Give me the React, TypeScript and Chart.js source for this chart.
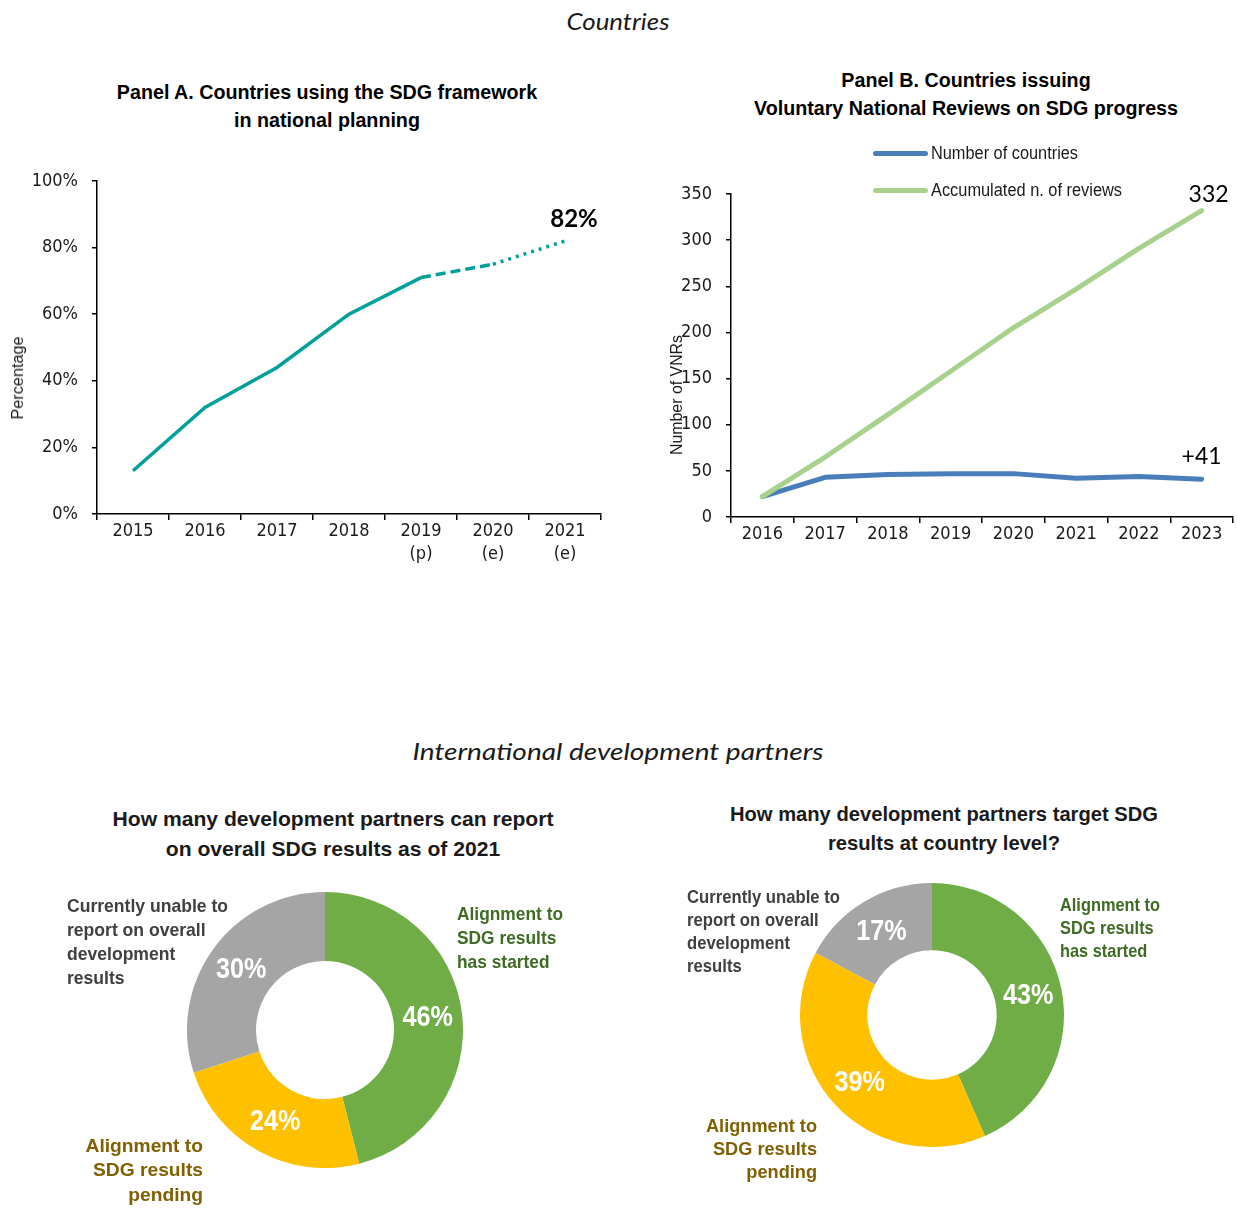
import React, { useEffect, useRef } from "react";
import { Chart, registerables } from "chart.js";

Chart.register(...registerables);

const NARROW = "'Liberation Sans Narrow', 'Arial Narrow', 'DejaVu Sans Condensed', sans-serif";
const ARIAL = "'Liberation Sans', Arial, sans-serif";
const HUMAN = "Lato, 'Open Sans', sans-serif";

// ---------- Data ----------
// Panel A
const panelAYears = [["2015"], ["2016"], ["2017"], ["2018"], ["2019", "(p)"], ["2020", "(e)"], ["2021", "(e)"]];
const panelAShare = [13, 32, 44, 60, 71, 75, 82];
const panelASegmentStyle = ["solid", "solid", "solid", "solid", "dashed", "dotted"];

// Panel B
const panelBYears = ["2016", "2017", "2018", "2019", "2020", "2021", "2022", "2023"];
const vnrCountries = [22, 43, 46, 47, 47, 42, 44, 41];
const vnrAccumulated = [22, 65, 111, 158, 205, 247, 291, 332];

// Doughnuts
const donutCategories = [
  "Alignment to SDG results has started",
  "Alignment to SDG results pending",
  "Currently unable to report on overall development results",
];
const donutReportShares = [46, 24, 30];
const donutTargetShares = [43, 39, 17];
const donutColors = ["#70AD47", "#FFC000", "#A5A5A5"];

// ---------- Text measuring ----------
let measureCtx: CanvasRenderingContext2D | null = null;
function textWidth(text: string, font: string) {
  if (!measureCtx) measureCtx = document.createElement("canvas").getContext("2d");
  measureCtx!.font = font;
  return measureCtx!.measureText(text).width;
}

// ---------- Plugins ----------
type PointLabel = { dataset: number; index: number; text: string; dx: number; dy: number; font: string; color: string };
function makePointLabels(items: PointLabel[]) {
  return {
    id: "pointLabels",
    afterDatasetsDraw(chart: any) {
      const ctx = chart.ctx;
      items.forEach((it) => {
        const el = chart.getDatasetMeta(it.dataset).data[it.index];
        if (!el) return;
        ctx.save();
        ctx.font = it.font;
        ctx.fillStyle = it.color;
        ctx.textAlign = "center";
        ctx.textBaseline = "middle";
        ctx.fillText(it.text, el.x + it.dx, el.y + it.dy);
        ctx.restore();
      });
    },
  };
}

const sliceLabels = {
  id: "sliceLabels",
  afterDatasetsDraw(chart: any) {
    const ctx = chart.ctx;
    const meta = chart.getDatasetMeta(0);
    const values = chart.data.datasets[0].data;
    meta.data.forEach((arc: any, i: number) => {
      const p = arc.getCenterPoint();
      ctx.save();
      ctx.translate(p.x, p.y);
      ctx.scale(0.84, 1);
      ctx.font = `bold 30px ${ARIAL}`;
      ctx.fillStyle = "#ffffff";
      ctx.textAlign = "center";
      ctx.textBaseline = "middle";
      ctx.fillText(`${values[i]}%`, 0, 1);
      ctx.restore();
    });
  },
};

// ---------- Generic chart canvas ----------
function ChartBox({ left, top, width, height, make }: any) {
  const ref = useRef<HTMLCanvasElement | null>(null);
  useEffect(() => {
    if (!ref.current) return;
    const chart = new Chart(ref.current, make());
    return () => chart.destroy();
  }, []);
  return (
    <canvas
      ref={ref}
      width={width}
      height={height}
      style={{ position: "absolute", left, top, width, height }}
    />
  );
}

function Txt({ x, y, lh, align = "left", size, weight = "normal", color = "#1a1a1a", family = ARIAL, italic = false, lines, fitW, fitLine = 0 }: any) {
  const W = 800;
  let k = 1;
  if (fitW) {
    const font = `${italic ? "italic " : ""}${weight} ${size}px ${family}`;
    const w = textWidth(lines[fitLine], font);
    if (w > 0) k = fitW / w;
  }
  const style: any = {
    position: "absolute",
    top: y - lh / 2,
    fontFamily: family,
    fontSize: size,
    fontWeight: weight,
    fontStyle: italic ? "italic" : "normal",
    lineHeight: `${lh}px`,
    color,
    whiteSpace: "nowrap",
    textAlign: align,
    transform: `scaleX(${k})`,
    transformOrigin: align === "left" ? "left center" : align === "right" ? "right center" : "center center",
  };
  if (align === "left") style.left = x;
  else if (align === "center") {
    style.left = x - W / 2;
    style.width = W;
  } else {
    style.left = x - W;
    style.width = W;
  }
  return (
    <div style={style}>
      {lines.map((l: string, i: number) => (
        <div key={i}>{l}</div>
      ))}
    </div>
  );
}

function VTxt({ x, y, size, text, fitW }: any) {
  const w = textWidth(text, `normal ${size}px ${ARIAL}`);
  const k = fitW && w > 0 ? fitW / w : 1;
  return (
    <div
      style={{
        position: "absolute",
        left: x,
        top: y,
        transform: `translate(-50%, -50%) rotate(-90deg) scaleX(${k})`,
        fontFamily: ARIAL,
        fontSize: size,
        color: "#1a1a1a",
        whiteSpace: "nowrap",
        lineHeight: "1",
      }}
    >
      {text}
    </div>
  );
}

const tickFont = { family: NARROW, size: 18, lineHeight: 1.28 };

function makePanelA() {
  const dashFor = (s: string) => (s === "dashed" ? [10, 5] : s === "dotted" ? [3, 5] : []);
  return {
    type: "line",
    data: {
      labels: panelAYears,
      datasets: [
        {
          label: "Countries using the SDG framework",
          data: panelAShare,
          borderColor: "#00A09A",
          borderWidth: 3.5,
          pointRadius: 0,
          tension: 0,
          fill: false,
          segment: {
            borderDash: (ctx: any) => dashFor(panelASegmentStyle[ctx.p0DataIndex]),
          },
        },
      ],
    },
    options: {
      responsive: false,
      animation: false,
      devicePixelRatio: 1,
      layout: { padding: { top: 21, right: 19, left: 0, bottom: 0 } },
      plugins: { legend: { display: false }, tooltip: { enabled: false } },
      scales: {
        x: {
          offset: true,
          grid: { offset: true, drawOnChartArea: false, drawTicks: true, tickLength: 6, color: "#000", lineWidth: 1.5 },
          border: { display: true, color: "#000", width: 1.5 },
          ticks: { color: "#1a1a1a", font: tickFont, padding: 0, maxRotation: 0, autoSkip: false },
          afterFit: (s: any) => {
            s.height = 66;
            s.paddingLeft = 0;
            s.paddingRight = 0;
          },
        },
        y: {
          min: 0,
          max: 100,
          grid: { drawOnChartArea: false, drawTicks: true, tickLength: 5, color: "#000", lineWidth: 1.5 },
          border: { display: true, color: "#000", width: 1.5 },
          ticks: { color: "#1a1a1a", font: tickFont, stepSize: 20, padding: 14, callback: (v: any) => `${v}%` },
          afterFit: (s: any) => {
            s.width = 97;
            s.paddingTop = 0;
            s.paddingBottom = 0;
          },
        },
      },
    },
    plugins: [
      makePointLabels([
        {
          dataset: 0,
          index: panelAShare.length - 1,
          text: `${panelAShare[panelAShare.length - 1]}%`,
          dx: 9,
          dy: -22,
          font: `bold 24px ${HUMAN}`,
          color: "#000",
        },
      ]),
    ],
  };
}

function makePanelB() {
  return {
    type: "line",
    data: {
      labels: panelBYears,
      datasets: [
        {
          label: "Accumulated n. of reviews",
          data: vnrAccumulated,
          borderColor: "#A9D18E",
          borderWidth: 5,
          pointRadius: 0,
          tension: 0,
          borderCapStyle: "round",
          borderJoinStyle: "round",
        },
        {
          label: "Number of countries",
          data: vnrCountries,
          borderColor: "#4A7EBB",
          borderWidth: 5,
          pointRadius: 0,
          tension: 0,
          borderCapStyle: "round",
          borderJoinStyle: "round",
        },
      ],
    },
    options: {
      responsive: false,
      animation: false,
      devicePixelRatio: 1,
      layout: { padding: { top: 64, right: 4, left: 0, bottom: 0 } },
      plugins: { legend: { display: false }, tooltip: { enabled: false } },
      scales: {
        x: {
          offset: true,
          grid: { offset: true, drawOnChartArea: false, drawTicks: true, tickLength: 6, color: "#000", lineWidth: 1.5 },
          border: { display: true, color: "#000", width: 1.5 },
          ticks: { color: "#1a1a1a", font: tickFont, padding: 0, maxRotation: 0, autoSkip: false },
          afterFit: (s: any) => {
            s.height = 43;
            s.paddingLeft = 0;
            s.paddingRight = 0;
          },
        },
        y: {
          min: 0,
          max: 350,
          grid: { drawOnChartArea: false, drawTicks: true, tickLength: 5, color: "#000", lineWidth: 1.5 },
          border: { display: true, color: "#000", width: 1.5 },
          ticks: { color: "#1a1a1a", font: tickFont, stepSize: 50, padding: 14 },
          afterFit: (s: any) => {
            s.width = 91;
            s.paddingTop = 0;
            s.paddingBottom = 0;
          },
        },
      },
    },
    plugins: [
      makePointLabels([
        {
          dataset: 0,
          index: vnrAccumulated.length - 1,
          text: `${vnrAccumulated[vnrAccumulated.length - 1]}`,
          dx: 7,
          dy: -16,
          font: `23px ${HUMAN}`,
          color: "#000",
        },
        {
          dataset: 1,
          index: vnrCountries.length - 1,
          text: `+${vnrCountries[vnrCountries.length - 1]}`,
          dx: 0,
          dy: -23,
          font: `23px ${HUMAN}`,
          color: "#000",
        },
      ]),
    ],
  };
}

function makeDonut(values: number[], cutout: string) {
  return () => ({
    type: "doughnut",
    data: {
      labels: donutCategories,
      datasets: [
        {
          data: values,
          backgroundColor: donutColors,
          borderWidth: 0,
          hoverOffset: 0,
        },
      ],
    },
    options: {
      responsive: false,
      animation: false,
      devicePixelRatio: 1,
      cutout,
      rotation: 0,
      layout: { padding: 0 },
      plugins: { legend: { display: false }, tooltip: { enabled: false } },
    },
    plugins: [sliceLabels],
  });
}

const GRAY_T = "#404040";
const GREEN_T = "#3F6B25";
const GOLD_T = "#806000";

export default function App() {
  return (
    <div style={{ position: "absolute", left: 0, top: 0, width: 1237, height: 1210, background: "#fff", overflow: "hidden" }}>
      {/* Section heading */}
      <Txt x={618} y={21} lh={30} align="center" size={23} family={HUMAN} italic color="#1a1a1a" lines={["Countries"]} fitW={103} />

      {/* Panel A */}
      <Txt
        x={327}
        y={92}
        lh={28}
        align="center"
        size={20}
        weight="bold"
        color="#000"
        fitW={421}
        lines={["Panel A. Countries using the SDG framework", "in national planning"]}
      />
      <ChartBox left={0} top={160} width={620} height={420} make={makePanelA} />
      <VTxt x={18} y={378} size={16} text="Percentage" fitW={83} />

      {/* Panel B */}
      <Txt
        x={966}
        y={80}
        lh={28}
        align="center"
        size={20}
        weight="bold"
        color="#000"
        fitW={424}
        fitLine={1}
        lines={["Panel B. Countries issuing", "Voluntary National Reviews on SDG progress"]}
      />
      <ChartBox left={640} top={130} width={597} height={430} make={makePanelB} />
      <VTxt x={677} y={395} size={16} text="Number of VNRs" fitW={120} />
      <div style={{ position: "absolute", left: 873, top: 150.5, width: 55, height: 5, borderRadius: 2.5, background: "#4A7EBB" }} />
      <div style={{ position: "absolute", left: 873, top: 187.5, width: 55, height: 5, borderRadius: 2.5, background: "#A9D18E" }} />
      <Txt x={931} y={153} lh={22} size={18} fitW={147} lines={["Number of countries"]} />
      <Txt x={931} y={190} lh={22} size={18} fitW={191} lines={["Accumulated n. of reviews"]} />

      {/* Section heading */}
      <Txt x={618} y={751} lh={30} align="center" size={23} family={HUMAN} italic color="#1a1a1a" fitW={411} lines={["International development partners"]} />

      {/* Donut 1 */}
      <Txt
        x={333}
        y={819}
        lh={30}
        align="center"
        size={21}
        weight="bold"
        fitW={441}
        lines={["How many development partners can report", "on overall SDG results as of 2021"]}
      />
      <ChartBox left={187} top={892} width={276} height={276} make={makeDonut(donutReportShares, "50%")} />
      <Txt x={67} y={906} lh={24} size={19} weight="bold" color={GRAY_T} fitW={161} lines={["Currently unable to", "report on overall", "development", "results"]} />
      <Txt x={457} y={914} lh={24} size={19} weight="bold" color={GREEN_T} fitW={106} lines={["Alignment to", "SDG results", "has started"]} />
      <Txt x={203} y={1146} lh={24.5} align="right" size={19} weight="bold" color={GOLD_T} fitW={110} fitLine={1} lines={["Alignment to", "SDG results", "pending"]} />

      {/* Donut 2 */}
      <Txt
        x={944}
        y={813}
        lh={29}
        align="center"
        size={21}
        weight="bold"
        fitW={428}
        lines={["How many development partners target SDG", "results at country level?"]}
      />
      <ChartBox left={800} top={883} width={264} height={264} make={makeDonut(donutTargetShares, "49%")} />
      <Txt x={687} y={896} lh={23} size={19} weight="bold" color={GRAY_T} fitW={153} lines={["Currently unable to", "report on overall", "development", "results"]} />
      <Txt x={1060} y={904} lh={23} size={19} weight="bold" color={GREEN_T} fitW={100} lines={["Alignment to", "SDG results", "has started"]} />
      <Txt x={817} y={1125} lh={23} align="right" size={19} weight="bold" color={GOLD_T} fitW={104} fitLine={1} lines={["Alignment to", "SDG results", "pending"]} />
    </div>
  );
}
